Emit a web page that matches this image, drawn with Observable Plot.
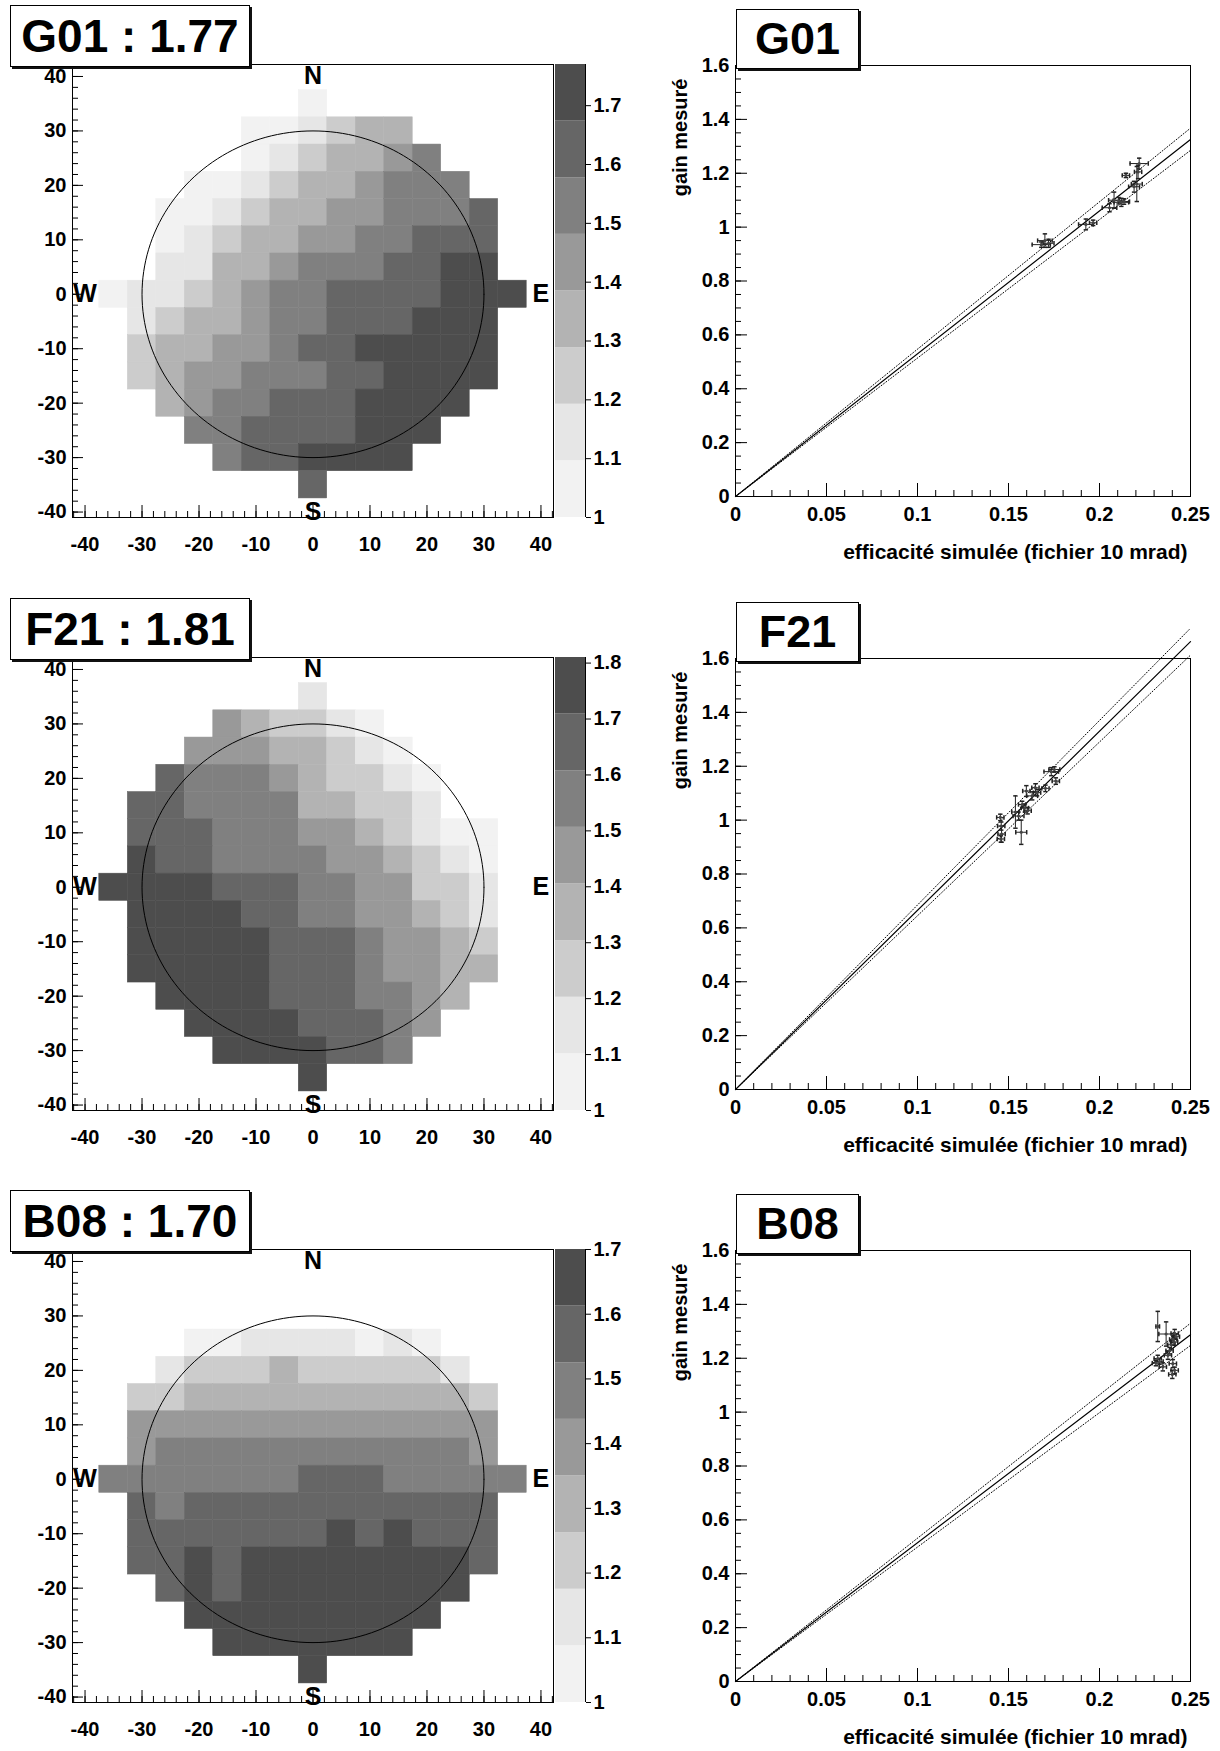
<!DOCTYPE html>
<html><head><meta charset="utf-8">
<script src="https://cdn.jsdelivr.net/npm/d3@7"></script>
<script src="https://cdn.jsdelivr.net/npm/@observablehq/plot@0.6"></script>
<style>
body{margin:0;background:#fff;}
#fig{position:relative;width:1220px;height:1751px;overflow:hidden;font-family:"Liberation Sans",Arial,sans-serif;background:#fff;}
.wrap{position:absolute;}
.tbox{position:absolute;border:1px solid #000;box-shadow:2px 2px 0 #111;background:#fff;font-weight:bold;display:flex;align-items:center;justify-content:center;box-sizing:border-box;z-index:5;color:#000;white-space:nowrap;}
</style></head>
<body><div id="fig"></div>
<script>
// ---------- DATA ----------
const panelNames = ["G01", "F21", "B08"];
const mapMax = [1.77, 1.81, 1.70];
const gridX = [-35,-30,-25,-20,-15,-10,-5,0,5,10,15,20,25,30,35];
const gridY = [35,30,25,20,15,10,5,0,-5,-10,-15,-20,-25,-30,-35];
// colour band index (0 = lightest .. 7 = darkest), '.' = empty cell
const g01Levels = [
".......0.......",
".....001233....",
".....0123345...",
"...0012334555..",
"..001233445556.",
"..012334455666.",
"..113345556677.",
"011234556666777",
".1233455666777.",
".2334456677777.",
".2344555667777.",
"..34556667777..",
"...556666777...",
"....5667777....",
".......6......."];
const f21Levels = [
".......1.......",
"....432210.....",
"...44433210....",
"..6555432210...",
".66555533221...",
".6665554432100.",
".7665555443210.",
"77776665544221.",
".7777665544321.",
".7777766654432.",
".7777766654433.",
"..77776665543..",
"...777766654...",
"....7777665....",
".......7......."];
const b08Levels = [
"...............",
"...............",
"...001111010...",
"..12223222221..",
".2233333333332.",
".4444444444444.",
".4555555555554.",
"555555566655555",
".6566666666666.",
".6666666767666.",
".6676777777776.",
"..67677777777..",
"...777777777...",
"....7777777....",
".......7......."];
const grays = ["#f2f2f2","#e6e6e6","#cccccc","#b3b3b3","#999999","#808080","#666666","#4d4d4d"];
const circleRadius = 30;
const compassLabels = ["N","S","E","W"];
const compassX = [0, 0, 40, -40];
const compassY = [40, -40, 0, 0];
const mapTicks = [-40,-30,-20,-10,0,10,20,30,40];

// scatter panels: simulated efficiency (x), measured gain (y), errors
const g01EffX = [0.168,0.170,0.172,0.1925,0.1965,0.2055,0.208,0.2105,0.212,0.2135,0.2145,0.219,0.2205,0.2212,0.2218];
const g01Gain = [0.935,0.950,0.940,1.010,1.016,1.072,1.100,1.098,1.092,1.095,1.192,1.150,1.160,1.205,1.236];
const g01ErrX = [0.005,0.004,0.003,0.004,0.002,0.004,0.003,0.003,0.004,0.003,0.002,0.003,0.003,0.002,0.005];
const g01ErrY = [0.010,0.025,0.015,0.020,0.010,0.015,0.030,0.012,0.015,0.010,0.008,0.020,0.065,0.025,0.020];
const f21EffX = [0.1455,0.146,0.1462,0.1458,0.1538,0.1555,0.157,0.1575,0.159,0.1605,0.1598,0.163,0.1648,0.1657,0.1703,0.1735,0.1752,0.1760];
const f21Gain = [1.010,0.978,0.948,0.930,1.030,1.015,0.955,1.058,1.045,1.035,1.108,1.090,1.120,1.102,1.118,1.180,1.188,1.145];
const f21ErrX = [0.002,0.002,0.002,0.002,0.002,0.003,0.003,0.002,0.002,0.002,0.002,0.003,0.002,0.002,0.002,0.004,0.003,0.002];
const f21ErrY = [0.012,0.015,0.030,0.012,0.060,0.015,0.045,0.012,0.015,0.012,0.020,0.015,0.015,0.012,0.012,0.015,0.010,0.012];
const b08EffX = [0.2320,0.2366,0.2413,0.2405,0.2395,0.2385,0.2410,0.2420,0.2320,0.2330,0.2310,0.2348,0.2376,0.2403,0.2413,0.2400];
const b08Gain = [1.318,1.290,1.292,1.270,1.250,1.228,1.260,1.280,1.199,1.188,1.182,1.168,1.211,1.180,1.155,1.140];
const b08ErrX = [0.001,0.004,0.002,0.002,0.002,0.002,0.002,0.002,0.002,0.002,0.002,0.002,0.002,0.002,0.002,0.002];
const b08ErrY = [0.056,0.045,0.015,0.012,0.015,0.012,0.012,0.010,0.012,0.010,0.010,0.015,0.015,0.015,0.012,0.015];
const fitSlope   = [5.30, 6.65, 5.15];
const fitSlopeHi = [5.47, 6.85, 5.32];
const fitSlopeLo = [5.14, 6.45, 4.99];
const effTicks = [0, 0.05, 0.1, 0.15, 0.2, 0.25];
const gainTicks = [0, 0.2, 0.4, 0.6, 0.8, 1, 1.2, 1.4, 1.6];
const xTitle = "efficacité simulée (fichier 10 mrad)";
const yTitle = "gain mesuré";

// ---------- DRAWING ----------
const levelSets = [g01Levels, f21Levels, b08Levels];
const scatterSets = [
  [g01EffX, g01Gain, g01ErrX, g01ErrY],
  [f21EffX, f21Gain, f21ErrX, f21ErrY],
  [b08EffX, b08Gain, b08ErrX, b08ErrY]
];
const FONT = '"Liberation Sans", Arial, sans-serif';
const fig = document.getElementById("fig");
const rowStep = 592.7;

function place(node, left, top, w, h) {
  const d = document.createElement("div");
  d.className = "wrap";
  d.style.left = left + "px"; d.style.top = top + "px";
  d.style.width = w + "px"; d.style.height = h + "px";
  d.appendChild(node);
  fig.appendChild(d);
}
function box(text, left, top, w, h, fs) {
  const d = document.createElement("div");
  d.className = "tbox";
  d.style.left = left + "px"; d.style.top = top + "px";
  d.style.width = w + "px"; d.style.height = h + "px";
  d.style.fontSize = fs + "px";
  d.style.fontFamily = FONT;
  d.textContent = text;
  fig.appendChild(d);
}
const baseStyle = {background: "transparent", overflow: "visible", maxWidth: "none", fontFamily: FONT, fontSize: "20px", fontWeight: "bold", color: "black"};
const hCap = {draw(ctx, size) { const r = Math.sqrt(size / Math.PI); ctx.moveTo(-r, 0); ctx.lineTo(r, 0); }};
const vCap = {draw(ctx, size) { const r = Math.sqrt(size / Math.PI); ctx.moveTo(0, -r); ctx.lineTo(0, r); }};
const fmt1 = d => String(+d.toFixed(2));

panelNames.forEach((name, p) => {
  const T = p * rowStep;
  const max = mapMax[p];
  const step = (max - 1) / 8;
  const thresholds = d3.range(1, 8).map(k => 1 + k * step);
  const cells = [];
  levelSets[p].forEach((row, i) => [...row].forEach((ch, j) => {
    if (ch !== ".") cells.push({x: gridX[j], y: gridY[i], v: 1 + (+ch + 0.5) * step});
  }));
  const circle = d3.range(0, 361, 2).map(a => ({x: circleRadius * Math.cos(a * Math.PI / 180), y: circleRadius * Math.sin(a * Math.PI / 180)}));
  const compass = compassLabels.map((t, i) => ({t, x: compassX[i], y: compassY[i]}));
  const hmW = 560, hmH = 565, hmL = 72, hmR = 7, hmT = 64, hmB = 48;
  const fW = hmW - hmL - hmR, fH = hmH - hmT - hmB;
  const minorMap = d3.range(-42, 43, 2);
  const colorOpt = {type: "threshold", domain: thresholds, range: grays};

  const heat = Plot.plot({
    width: hmW, height: hmH, marginLeft: hmL, marginRight: hmR, marginTop: hmT, marginBottom: hmB,
    x: {domain: [-42.2, 42.2]},
    y: {domain: [-41, 42.2]},
    color: colorOpt,
    style: baseStyle,
    marks: [
      Plot.rect(cells, {x1: d => d.x - 2.5, x2: d => d.x + 2.5, y1: d => d.y - 2.5, y2: d => d.y + 2.5, fill: "v", stroke: "v", strokeWidth: 0.5}),
      Plot.line(circle, {x: "x", y: "y", stroke: "black", strokeWidth: 1}),
      Plot.text(compass, {x: "x", y: "y", text: "t", fontSize: 25, fontWeight: "bold", fill: "black"}),
      Plot.tickX(mapTicks, {x: d => d, insetTop: fH - 12, stroke: "black"}),
      Plot.tickX(minorMap, {x: d => d, insetTop: fH - 6, stroke: "black"}),
      Plot.tickY(mapTicks, {y: d => d, insetRight: fW - 11, stroke: "black"}),
      Plot.tickY(minorMap.filter(v => v > -41), {y: d => d, insetRight: fW - 6, stroke: "black"}),
      Plot.frame({stroke: "black"}),
      Plot.axisX(mapTicks, {tickSize: 0, tickPadding: 19, tickFormat: d => String(d), label: null}),
      Plot.axisY(mapTicks, {tickSize: 0, tickPadding: 6, tickFormat: d => String(d), label: null})
    ]
  });
  place(heat, 0, T, hmW, hmH);

  const bands = d3.range(8).map(k => ({lo: 1 + k * step, hi: 1 + (k + 1) * step, mid: 1 + (k + 0.5) * step}));
  const cbTicks = d3.range(0, 10).map(k => +(1 + k * 0.1).toFixed(1)).filter(v => v <= max + 1e-9);
  const cb = Plot.plot({
    width: 67, height: hmH, marginLeft: 2, marginRight: 35, marginTop: hmT, marginBottom: hmB,
    x: {domain: [0, 1], axis: null},
    y: {domain: [1, max]},
    color: colorOpt,
    style: baseStyle,
    marks: [
      Plot.rect(bands, {x1: 0, x2: 1, y1: "lo", y2: "hi", fill: "mid"}),
      Plot.ruleX([1], {stroke: "black"}),
      Plot.axisY(cbTicks, {anchor: "right", tickSize: 5, tickPadding: 3, tickFormat: fmt1, label: null})
    ]
  });
  place(cb, 553, T, 67, hmH);

  const [xs, ys, exs, eys] = scatterSets[p];
  const pts = xs.map((x, i) => ({x, y: ys[i], ex: exs[i], ey: eys[i]}));
  const line = s => [0, 0.25].map(x => ({x, y: s * x}));
  const scW = 600, scH = 565, scL = 115, scR = 30, scT = 65, scB = 69;
  const sfW = scW - scL - scR, sfH = scH - scT - scB;
  const effMinor = d3.range(0, 26).map(i => i / 100);
  const gainMinor = d3.range(0, 33).map(i => i * 0.05);
  const sc = Plot.plot({
    width: scW, height: scH, marginLeft: scL, marginRight: scR, marginTop: scT, marginBottom: scB,
    x: {domain: [0, 0.25]},
    y: {domain: [0, 1.6]},
    style: baseStyle,
    marks: [
      Plot.tickX(effTicks, {x: d => d, insetTop: sfH - 13, stroke: "black"}),
      Plot.tickX(effMinor, {x: d => d, insetTop: sfH - 6, stroke: "black"}),
      Plot.tickY(gainTicks, {y: d => d, insetRight: sfW - 12, stroke: "black"}),
      Plot.tickY(gainMinor, {y: d => d, insetRight: sfW - 6, stroke: "black"}),
      Plot.frame({stroke: "black"}),
      Plot.axisX(effTicks, {tickSize: 0, tickPadding: 10, tickFormat: fmt1, label: null}),
      Plot.axisY(gainTicks, {tickSize: 0, tickPadding: 6, tickFormat: fmt1, label: null}),
      Plot.line(line(fitSlopeHi[p]), {x: "x", y: "y", stroke: "black", strokeWidth: 1, strokeDasharray: "1,2"}),
      Plot.line(line(fitSlopeLo[p]), {x: "x", y: "y", stroke: "black", strokeWidth: 1, strokeDasharray: "1,2"}),
      Plot.line(line(fitSlope[p]), {x: "x", y: "y", stroke: "black", strokeWidth: 1.2}),
      Plot.ruleX(pts, {x: "x", y1: d => d.y - d.ey, y2: d => d.y + d.ey, stroke: "#222", strokeWidth: 1}),
      Plot.ruleY(pts, {y: "y", x1: d => d.x - d.ex, x2: d => d.x + d.ex, stroke: "#222", strokeWidth: 1}),
      Plot.dot(pts, {x: "x", y: d => d.y + d.ey, symbol: hCap, r: 2.2, stroke: "#222", fill: "none"}),
      Plot.dot(pts, {x: "x", y: d => d.y - d.ey, symbol: hCap, r: 2.2, stroke: "#222", fill: "none"}),
      Plot.dot(pts, {x: d => d.x + d.ex, y: "y", symbol: vCap, r: 2.2, stroke: "#222", fill: "none"}),
      Plot.dot(pts, {x: d => d.x - d.ex, y: "y", symbol: vCap, r: 2.2, stroke: "#222", fill: "none"}),
      Plot.dot(pts, {x: "x", y: "y", r: 1.6, fill: "#444", stroke: "none"}),
      Plot.text([yTitle], {frameAnchor: "top-left", text: d => d, rotate: -90, textAnchor: "end", dx: -63, dy: 13, fontSize: 20, fontWeight: "bold", fill: "black"}),
      Plot.text([xTitle], {frameAnchor: "bottom-right", text: d => d, textAnchor: "end", dx: -3, dy: 62, fontSize: 21, fontWeight: "bold", fill: "black"})
    ]
  });
  place(sc, 620, T, scW, scH);

  box(name + " : " + mapMax[p].toFixed(2), 10, T + 5, 240, 62, 46);
  box(name, 736, T + 9, 123, 60, 45);
});
</script>
</body></html>
